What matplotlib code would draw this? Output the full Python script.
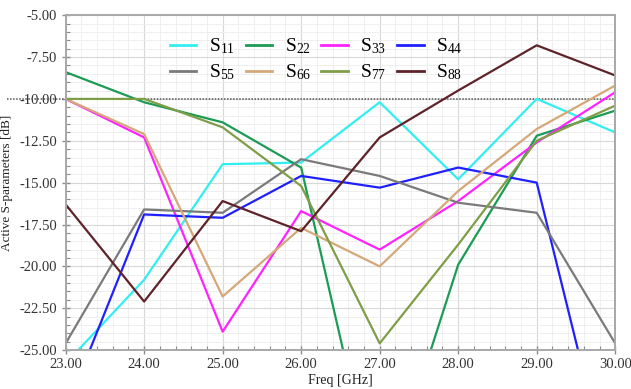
import matplotlib
matplotlib.use("Agg")
import matplotlib.pyplot as plt
from matplotlib.ticker import MultipleLocator, FormatStrFormatter

plt.rcParams['font.family'] = 'Liberation Serif'
plt.rcParams['mathtext.fontset'] = 'custom'
plt.rcParams['mathtext.rm'] = 'Liberation Serif'
plt.rcParams['mathtext.it'] = 'Liberation Serif:italic'

# Active S-parameters per port, sampled at 1 GHz steps
freq = [23, 24, 25, 26, 27, 28, 29, 30]
s11 = [-25.8, -20.8, -13.9, -13.8, -10.2, -14.8, -10.0, -12.0]
s22 = [-8.4, -10.2, -11.4, -14.1, -34.5, -19.9, -12.2, -10.7]
s33 = [-10.0, -12.3, -23.9, -16.7, -19.0, -16.1, -12.6, -9.6]
s44 = [-28.6, -16.9, -17.1, -14.6, -15.3, -14.1, -15.0, -34.0]
s55 = [-24.6, -16.6, -16.8, -13.6, -14.6, -16.2, -16.8, -24.6]
s66 = [-10.0, -12.1, -21.8, -17.7, -20.0, -15.5, -11.8, -9.2]
s77 = [-10.0, -10.0, -11.7, -15.2, -24.6, -18.7, -12.5, -10.4]
s88 = [-16.3, -22.1, -16.1, -17.9, -12.3, -9.5, -6.8, -8.6]

labels = ['11', '22', '33', '44', '55', '66', '77', '88']
series = [s11, s22, s33, s44, s55, s66, s77, s88]
colors = ['#33eef0', '#1c9b55', '#ff22ff', '#2020ff',
          '#7a7a7a', '#d4a878', '#7f9e48', '#5e2329']

fig = plt.figure(figsize=(6.31, 3.89), dpi=100)
ax = fig.add_axes([0.104, 0.100, 0.871, 0.861])

lines = []
for lab, vals, c in zip(labels, series, colors):
    ln, = ax.plot(freq, vals, color=c, lw=1.6, label=r'$\mathrm{S}_{%s}$' % lab)
    lines.append(ln)

# -10 dB reference, running out past the left spine
ax.plot([-0.107, 1.0], [-10, -10], transform=ax.get_yaxis_transform(),
        color='#555555', ls=(0, (1, 1)), lw=1.1, clip_on=False, zorder=1)

ax.set_xlim(23, 30)
ax.set_ylim(-25, -5)
ax.xaxis.set_major_locator(MultipleLocator(1))
ax.xaxis.set_minor_locator(MultipleLocator(0.2))
ax.yaxis.set_major_locator(MultipleLocator(2.5))
ax.yaxis.set_minor_locator(MultipleLocator(0.5))
ax.xaxis.set_major_formatter(FormatStrFormatter('%.2f'))
ax.yaxis.set_major_formatter(FormatStrFormatter('%.2f'))

ax.grid(which='major', color='#d8d8d8', lw=0.8)
ax.grid(which='minor', color='#ececec', lw=0.6)
ax.set_axisbelow(True)

for side in ['top', 'right', 'left', 'bottom']:
    ax.spines[side].set_color('#a8a8a8')
    ax.spines[side].set_linewidth(1.4)

ax.tick_params(which='major', direction='inout', length=6, width=1.0,
               color='#8a8a8a', labelsize=10.5, labelcolor='#333333', pad=3)
ax.tick_params(which='minor', direction='in', length=3, width=0.8, color='#8a8a8a')
ax.tick_params(top=False, right=False, which='both')

ax.set_xlabel('Freq [GHz]', fontsize=10, color='#222222')
ax.xaxis.set_label_coords(0.5, -0.072)
ax.set_ylabel('Active S-parameters [dB]', fontsize=9.5, color='#222222')
ax.yaxis.set_label_coords(-0.095, 0.5)

# legend rows read S11..S44 then S55..S88
order = [0, 4, 1, 5, 2, 6, 3, 7]
leg = ax.legend([lines[i] for i in order], [lines[i].get_label() for i in order],
                ncol=4, frameon=False, fontsize=14, loc='center',
                bbox_to_anchor=(0.456, 0.868), handlelength=1.35, handletextpad=0.65,
                columnspacing=0.55, labelspacing=0.32, borderaxespad=0)
for h in leg.get_lines():
    h.set_linewidth(2.0)

fig.savefig('out.png', dpi=100)
